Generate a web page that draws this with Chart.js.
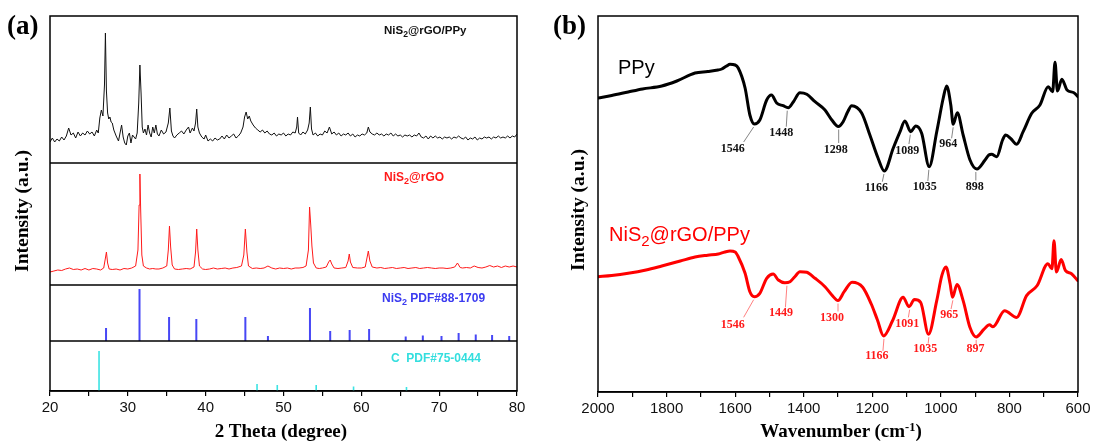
<!DOCTYPE html>
<html>
<head>
<meta charset="utf-8">
<script src="https://cdn.jsdelivr.net/npm/chart.js@4.4.0/dist/chart.umd.min.js"></script>
<style>
  html, body { margin:0; padding:0; background:#fff; }
  #wrap { position:relative; width:1094px; height:441px; overflow:hidden; background:#fff; }
  canvas { position:absolute; top:0; }
  .t { position:absolute; white-space:nowrap; line-height:1; }
  .serif { font-family:"Liberation Serif","Times New Roman",serif; font-weight:bold; }
  .sans { font-family:"Liberation Sans",Arial,sans-serif; }
  .rot { transform:translate(-50%,-50%) rotate(-90deg); }
  sub { font-size:0.75em; vertical-align:-0.35em; line-height:0; }
  sup { font-size:0.65em; vertical-align:0.5em; line-height:0; }
</style>
</head>
<body>
<div id="wrap">
  <canvas id="ca" width="547" height="441" style="left:0"></canvas>
  <canvas id="cb" width="547" height="441" style="left:547px"></canvas>

  <div class="t serif" style="left:7px;top:12px;font-size:27px;">(a)</div>
  <div class="t serif" style="left:553px;top:12px;font-size:27px;">(b)</div>

  <div class="t serif rot" style="left:21.5px;top:211px;font-size:19.5px;">Intensity (a.u.)</div>
  <div class="t serif rot" style="left:578px;top:210px;font-size:19.5px;">Intensity (a.u.)</div>

  <div class="t serif" style="left:281px;top:421px;font-size:19px;transform:translateX(-50%);">2 Theta (degree)</div>
  <div class="t serif" style="left:841px;top:421px;font-size:19px;transform:translateX(-50%);">Wavenumber (cm<sup>-1</sup>)</div>

  <div class="t sans" style="left:384px;top:25px;font-size:11.5px;font-weight:bold;color:#111;">NiS<sub>2</sub>@rGO/PPy</div>
  <div class="t sans" style="left:384px;top:171px;font-size:12px;font-weight:bold;color:#ff1a1a;">NiS<sub>2</sub>@rGO</div>
  <div class="t sans" style="left:382px;top:292px;font-size:12px;font-weight:bold;color:#3b3bf0;">NiS<sub>2</sub> PDF#88-1709</div>
  <div class="t sans" style="left:391px;top:352px;font-size:12px;font-weight:bold;color:#33dede;">C&nbsp;&nbsp;PDF#75-0444</div>

  <div class="t sans" style="left:618px;top:57px;font-size:20px;color:#000;">PPy</div>
  <div class="t sans" style="left:609px;top:224px;font-size:20px;color:#ff0000;">NiS<sub>2</sub>@rGO/PPy</div>
</div>

<script>
// ---------- (a) XRD data ----------
const xrdCompAngle = [20.0,20.3,20.6,20.9,21.2,21.5,21.8,22.1,22.4,22.7,23.0,23.3,23.6,23.9,24.2,24.5,24.8,25.1,25.4,25.7,26.0,26.2,26.4,26.6,26.8,27.0,27.12,27.25,27.4,27.55,27.7,27.85,28.0,28.2,28.5,28.8,29.0,29.2,29.4,29.6,29.8,30.0,30.2,30.4,30.6,30.8,31.0,31.2,31.4,31.55,31.7,31.85,32.0,32.2,32.4,32.6,32.8,33.0,33.2,33.4,33.6,33.8,34.0,34.3,34.6,34.9,35.2,35.4,35.6,35.8,36.0,36.3,36.6,36.9,37.2,37.5,37.8,38.0,38.3,38.5,38.7,38.85,39.0,39.2,39.5,39.8,40.0,40.3,40.6,40.9,41.2,41.5,41.8,42.1,42.4,42.7,43.0,43.3,43.6,43.9,44.2,44.5,44.8,45.0,45.2,45.4,45.6,45.8,46.1,46.4,46.7,47.0,47.3,47.6,47.9,48.2,48.5,48.8,49.1,49.4,49.7,50.0,50.3,50.6,50.9,51.2,51.5,51.7,51.8,51.95,52.2,52.5,52.8,53.1,53.3,53.45,53.6,53.8,54.1,54.4,54.7,55.0,55.3,55.6,55.9,56.2,56.5,56.8,57.1,57.4,57.7,58.0,58.3,58.6,58.9,59.2,59.5,59.8,60.1,60.4,60.7,60.9,61.1,61.4,61.7,62.0,62.3,62.6,62.9,63.2,63.5,63.8,64.1,64.4,64.7,65.0,65.3,65.6,65.9,66.2,66.5,66.8,67.1,67.4,67.7,68.0,68.3,68.6,68.9,69.2,69.5,69.8,70.1,70.4,70.7,71.0,71.3,71.6,71.9,72.2,72.5,72.8,73.1,73.4,73.7,74.0,74.3,74.6,74.9,75.2,75.5,75.8,76.1,76.4,76.7,77.0,77.3,77.6,77.9,78.2,78.5,78.8,79.1,79.4,79.7,80.0];
const xrdCompInt   = [21,25,21,24,22,26,23,27,35,28,30,25,31,27,30,28,32,29,31,27,33,30,45,53,47,78,130,72,50,44,46,41,40,33,27,22,30,38,26,20,18,27,30,20,28,26,24,30,60,98,70,36,30,34,28,38,30,26,36,30,38,29,27,33,29,31,40,55,32,27,25,28,30,32,29,33,36,30,35,32,40,54,36,30,26,24,28,22,24,22,25,23,24,27,24,28,25,27,29,25,27,30,36,46,51,44,47,42,38,35,33,31,33,30,32,29,28,30,27,29,28,30,27,29,28,31,30,36,46,30,28,31,29,33,40,56,34,28,30,27,29,28,32,30,36,29,31,28,30,27,29,28,30,27,29,26,28,27,29,28,30,36,31,29,28,30,28,29,27,29,28,30,27,29,27,28,26,28,27,28,26,28,27,30,26,25,27,24,27,25,27,25,26,24,26,25,26,24,26,25,27,25,24,26,23,25,24,26,23,25,24,26,25,26,24,26,25,27,25,26,25,27,25,27,26,29];

const xrdRgoAngle = [20.0,20.5,21.0,21.5,22.0,22.5,23.0,23.5,24.0,24.5,25.0,25.5,26.0,26.5,26.9,27.1,27.25,27.4,27.6,28.0,28.5,29.0,29.5,30.0,30.5,31.0,31.3,31.45,31.55,31.65,31.8,32.0,32.4,32.8,33.2,33.6,34.0,34.5,35.0,35.2,35.35,35.5,35.7,36.0,36.5,37.0,37.5,38.0,38.5,38.7,38.85,39.0,39.2,39.6,40.0,40.5,41.0,41.5,42.0,42.5,43.0,43.5,44.0,44.6,44.9,45.1,45.3,45.5,46.0,46.5,47.0,47.5,48.0,48.5,49.0,49.5,50.0,50.5,51.0,51.5,52.0,52.5,52.9,53.2,53.35,53.5,53.65,53.85,54.2,54.6,55.0,55.5,55.8,56.0,56.2,56.5,57.0,57.5,58.0,58.3,58.45,58.6,58.9,59.5,60.0,60.5,60.75,60.9,61.1,61.4,62.0,62.5,63.0,63.5,64.0,64.5,65.0,65.5,66.0,66.5,67.0,67.5,68.0,68.5,69.0,69.5,70.0,70.5,71.0,71.5,72.0,72.35,72.7,73.0,73.5,74.0,74.5,75.0,75.5,76.0,76.5,77.0,77.5,78.0,78.5,79.0,79.5,80.0];
const xrdRgoInt   = [13,14,15,14.5,16,17,15.5,16,15,16.5,15,16.5,16,15,17,26,33,22,16,15.5,16,15,16.5,16,17,19,35,80,111,75,30,19,17,16,16.5,16,16,17,19,35,59,38,20,16,15.5,16,16.5,16,18,33,56,35,19,16,15.5,16,17,16,16.5,17,16,17,17.5,19,30,56,33,19,16.5,17,16.5,17,19,17,16,17,16.5,17,16,17,17,17.5,19,35,78,60,39,22,17,16.5,17,18,23,25,21,17,16.5,17,17.5,24,31,23,17.5,17,17,18,28,34,24,18,17,17.5,16.5,17,17.5,16.5,17,17.5,16.5,17,17.5,16.5,17,17.5,17,16.5,17,17,16.5,17,18,22,17.5,17,17.5,17,19,17.5,17,18,19.5,18,19,17.5,19,18,19,18];

const nis2RefAngle = [27.2,31.5,35.3,38.8,45.1,48.0,53.4,56.0,58.5,61.0,65.7,67.9,70.3,72.5,74.7,76.8,79.0];
const nis2RefInt   = [13,52,24,22,24,5,33,10,11,12,4.5,5.5,5,8,6.5,6,5];
const cRefAngle = [26.3,46.6,49.2,54.2,59.0,65.8];
const cRefInt   = [40,7,6,6,4.5,4];

// ---------- (b) FTIR data ----------
const ppyWn = [2000,1960,1912,1870,1814,1770,1717,1680,1650,1639,1625,1615,1600,1591,1571,1557,1544,1528,1508,1494,1479,1460,1445,1430,1411,1391,1367,1338,1318,1299,1285,1272,1260,1231,1207,1183,1165,1139,1119,1105,1088,1073,1056,1034,1012,993,983,971,964,952,935,915,895,871,860,852,837,820,811,795,779,760,735,711,687,674,667,660,647,632,612,600];
const ppyT  = [294,296.5,300,303,306,311,319,320.5,322,323,326,327.7,327,324,304,277,268,272,292,297,289,286.3,284.3,290.3,299.3,297.7,290.3,282,272,265.5,270.3,280,286.3,279,257,233.7,221,243.7,260.3,271,260.3,266,258.7,225.3,260.3,294,306,287,267.7,279.3,257,232,223,232,237,237.7,235.3,252,257,253,247.7,260.3,278.7,287,305.3,300.3,329.7,301,312.7,302,299.3,295.3];

const compWn = [2000,1960,1912,1860,1814,1760,1717,1680,1649,1630,1615,1600,1591,1571,1557,1544,1528,1508,1489,1474,1455,1440,1426,1411,1391,1367,1338,1318,1300,1282,1259,1228,1203,1185,1167,1141,1110,1093,1077,1059,1036,1012,997,985,973,966,953,935,915,897,874,858,848,814,779,750,719,688,676,670,663,649,637,619,601];
const compT  = [115.3,116.5,118.7,122,126,131,135,136.8,138,140,141,140,135.3,118.7,100.3,95.3,98.7,113.7,118,112,109.3,110.3,115.3,120.3,119.7,113.7,105.3,97,91.5,100.3,109.8,104.8,88,72,56.1,71.2,94.7,85.3,92.4,89.7,57.8,91.4,116.6,125,108.2,94.7,107.5,91.4,64.5,55.1,62.8,67.2,65.2,81.3,74.6,96.4,106.5,128.3,123.3,151.2,120,132.4,121.6,118.2,111.5];

const ppyPeakWn  = [1546,1448,1298,1166,1089,1035,964,898];
const ppyPeakVal = [268,284.3,265.5,221,260.3,225.3,267.7,223];
const compPeakWn  = [1546,1449,1300,1166,1091,1035,965,897];
const compPeakVal = [95.3,109.3,91.5,56.1,85.3,57.8,94.7,55.1];

// ---------- layout (positions / styles, not data) ----------
const SECTION = {comp:228, rgo:106, nis2:50, c:0};
const ppyLabelLayout  = [[-10,18,-21,25],[-1,19,-6,25],[0,16.5,-3,23.5],[-1.6,10.7,-7.6,16.7],[-1.4,12.3,-3,19],[-1,14.3,-4,20.6],[-1.6,14,-5,20],[0,11.5,-1,17.5]];
const compLabelLayout = [[-10,20.6,-21,28.3],[-1.5,24.6,-6,30.6],[0,11,-6,17.7],[-1,15,-7,20],[-1.3,10.7,-2.4,16.8],[-0.7,9.4,-3.5,14.5],[-1.8,11.7,-3.5,17.7],[0,7.3,-0.6,12.4]];

const pts = (xs, ys, off) => xs.map((x,i) => ({x, y: ys[i] + off}));
const sticks = (xs, hs, off) => xs.flatMap((x,i) => [{x, y: off}, {x, y: off + hs[i]}, {x, y: null}]);

const framePlugin = {
  id: 'frame',
  afterDraw(chart, args, opts) {
    const {ctx, chartArea: a, scales: {y}} = chart;
    ctx.save();
    ctx.strokeStyle = '#000';
    ctx.lineWidth = 1.5;
    ctx.strokeRect(a.left, a.top, a.right - a.left, a.bottom - a.top);
    (opts.dividers || []).forEach(v => {
      const py = y.getPixelForValue(v);
      ctx.beginPath(); ctx.moveTo(a.left, py); ctx.lineTo(a.right, py); ctx.stroke();
    });
    ctx.restore();
  }
};

const peakPlugin = {
  id: 'peaks',
  afterDatasetsDraw(chart, args, opts) {
    const {ctx, scales: {x, y}} = chart;
    ctx.save();
    (opts.sets || []).forEach(s => {
      s.wn.forEach((w, i) => {
        const px = x.getPixelForValue(w), py = y.getPixelForValue(s.val[i]);
        const [ldx, ldy, tdx, tdy] = s.layout[i];
        ctx.strokeStyle = s.lineColor; ctx.lineWidth = 0.8;
        ctx.beginPath(); ctx.moveTo(px, py + 3); ctx.lineTo(px + ldx, py + ldy); ctx.stroke();
        ctx.fillStyle = s.color;
        ctx.font = 'bold 12px "Liberation Serif", serif';
        ctx.textAlign = 'center'; ctx.textBaseline = 'middle';
        ctx.fillText(String(w), px + tdx, py + tdy);
      });
    });
    ctx.restore();
  }
};

const tickFont = {family: '"Liberation Sans", Arial, sans-serif', size: 15};

new Chart(document.getElementById('ca'), {
  type: 'line',
  data: {
    datasets: [
      {data: pts(xrdCompAngle, xrdCompInt, SECTION.comp), borderColor: '#111', borderWidth: 1, pointRadius: 0, tension: 0},
      {data: pts(xrdRgoAngle, xrdRgoInt, SECTION.rgo), borderColor: '#ff1a1a', borderWidth: 1, pointRadius: 0, tension: 0},
      {data: sticks(nis2RefAngle, nis2RefInt, SECTION.nis2), borderColor: '#4747f5', borderWidth: 2, pointRadius: 0, spanGaps: false},
      {data: sticks(cRefAngle, cRefInt, SECTION.c), borderColor: '#3de3e3', borderWidth: 1.6, pointRadius: 0, spanGaps: false}
    ]
  },
  options: {
    responsive: false, animation: false, events: [],
    layout: {padding: {left: 50, right: 30, top: 16, bottom: 0}},
    plugins: {legend: {display: false}, tooltip: {enabled: false}, frame: {dividers: [SECTION.nis2, SECTION.rgo, SECTION.comp]}},
    scales: {
      x: {
        type: 'linear', min: 20, max: 80, position: 'bottom',
        afterFit(s) { s.height = 50; },
        ticks: {stepSize: 5, autoSkip: false, maxRotation: 0, padding: 3, color: '#111', font: tickFont,
                callback: v => (v % 10 === 0 ? String(v) : '')},
        grid: {drawOnChartArea: false, drawTicks: true, tickLength: 5, color: '#000', lineWidth: 1.2},
        border: {display: true, color: '#000', width: 1.5}
      },
      y: {display: false, min: 0, max: 375}
    }
  },
  plugins: [framePlugin]
});

new Chart(document.getElementById('cb'), {
  type: 'line',
  data: {
    datasets: [
      {data: pts(ppyWn, ppyT, 0), borderColor: '#000', borderWidth: 3, pointRadius: 0, cubicInterpolationMode: 'monotone', borderJoinStyle: 'round', borderCapStyle: 'round'},
      {data: pts(compWn, compT, 0), borderColor: '#ff0000', borderWidth: 3, pointRadius: 0, cubicInterpolationMode: 'monotone', borderJoinStyle: 'round', borderCapStyle: 'round'}
    ]
  },
  options: {
    responsive: false, animation: false, events: [],
    layout: {padding: {left: 51, right: 16, top: 16, bottom: 0}},
    plugins: {
      legend: {display: false}, tooltip: {enabled: false}, frame: {dividers: []},
      peaks: {sets: [
        {wn: ppyPeakWn, val: ppyPeakVal, layout: ppyLabelLayout, color: '#111', lineColor: '#666'},
        {wn: compPeakWn, val: compPeakVal, layout: compLabelLayout, color: '#ff1a1a', lineColor: '#ff6060'}
      ]}
    },
    scales: {
      x: {
        type: 'linear', min: 600, max: 2000, reverse: true, position: 'bottom',
        afterFit(s) { s.height = 49; },
        ticks: {stepSize: 100, autoSkip: false, maxRotation: 0, padding: 3, color: '#111', font: tickFont,
                callback: v => (v % 200 === 0 ? String(v) : '')},
        grid: {drawOnChartArea: false, drawTicks: true, tickLength: 5, color: '#000', lineWidth: 1.2},
        border: {display: true, color: '#000', width: 1.5}
      },
      y: {display: false, min: 0, max: 376}
    }
  },
  plugins: [framePlugin, peakPlugin]
});
</script>
</body>
</html>
